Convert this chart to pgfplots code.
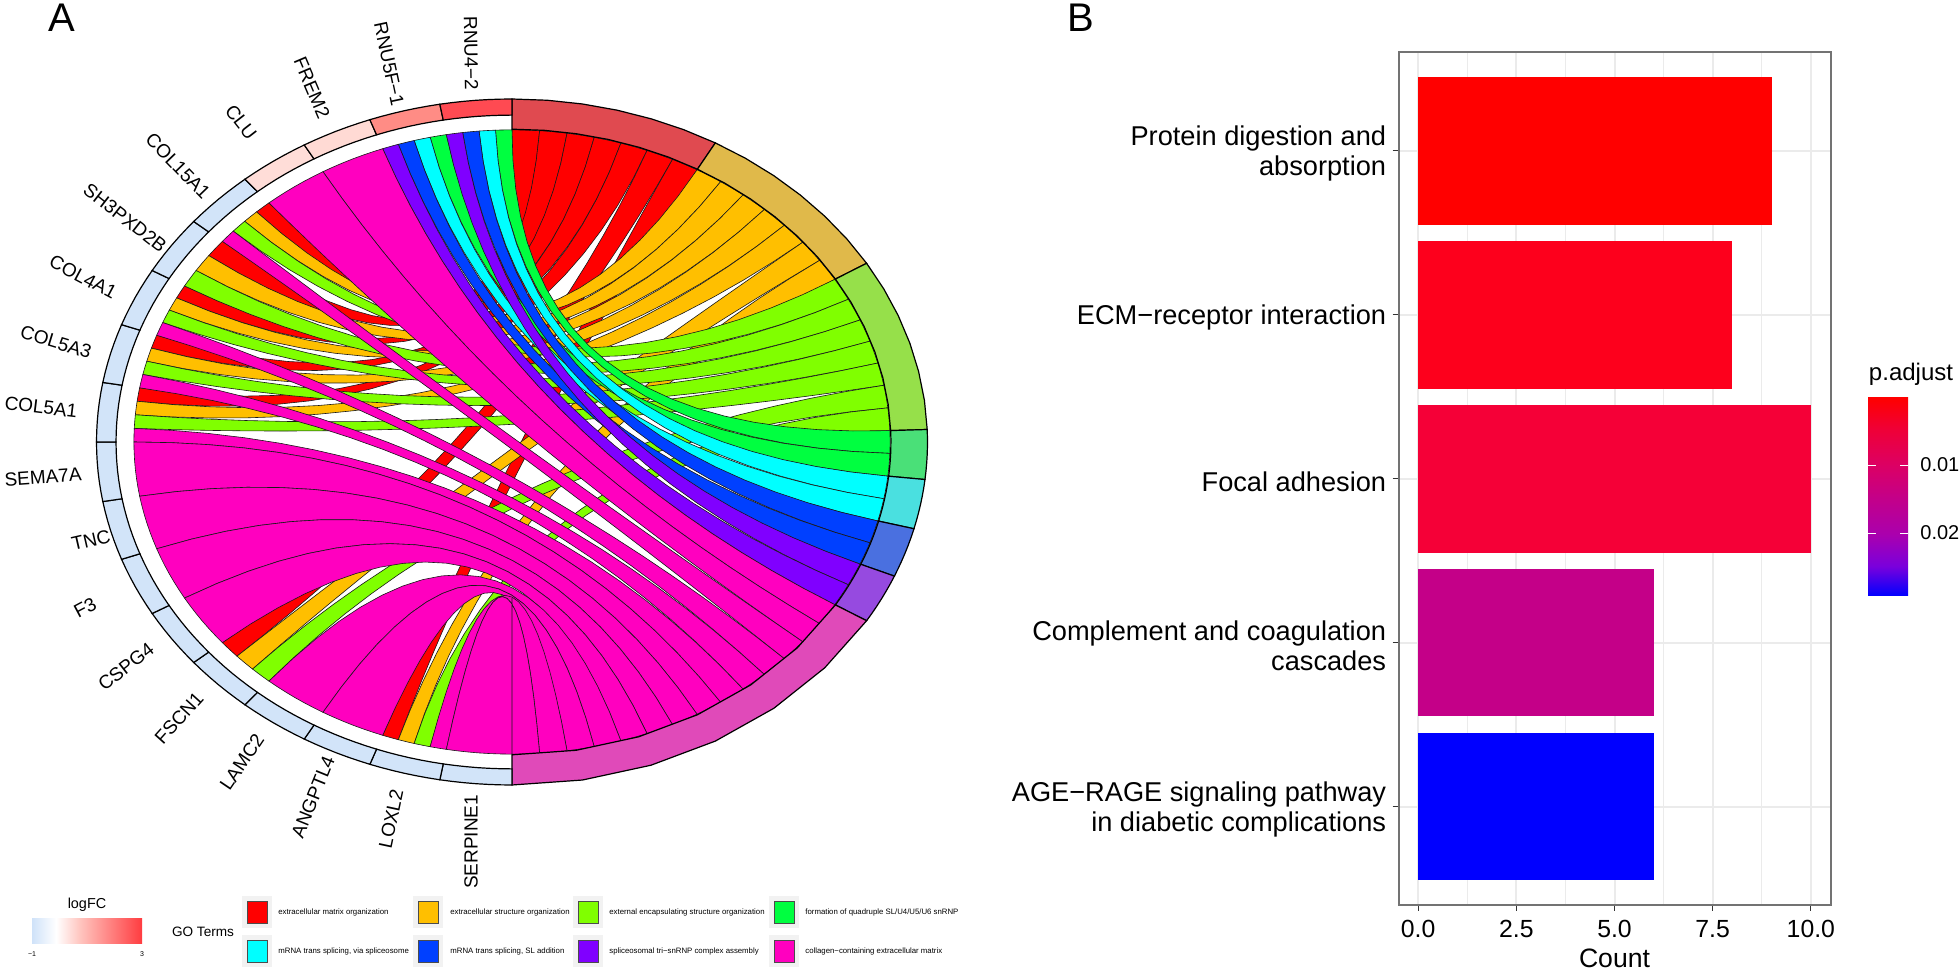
\documentclass[border=0pt]{standalone}
\usepackage{fontspec}
\setmainfont{Liberation Sans}
\usepackage{pgfplots}
\pgfplotsset{compat=1.18}
\definecolor{cR}{HTML}{FF0000}\definecolor{cO}{HTML}{FFBF00}\definecolor{cL}{HTML}{80FF00}\definecolor{cG}{HTML}{00FF40}
\definecolor{cC}{HTML}{00FFFF}\definecolor{cB}{HTML}{0040FF}\definecolor{cP}{HTML}{8000FF}\definecolor{cM}{HTML}{FF00BF}
\definecolor{rR}{HTML}{E04A50}\definecolor{rO}{HTML}{E0B94A}\definecolor{rL}{HTML}{96E04A}\definecolor{rG}{HTML}{4AE078}
\definecolor{rC}{HTML}{4AE0E0}\definecolor{rB}{HTML}{4A70E0}\definecolor{rP}{HTML}{964AE0}\definecolor{rM}{HTML}{E04AB9}
\definecolor{gN}{HTML}{D2E4F9}\definecolor{gA}{HTML}{FF4A52}\definecolor{gB}{HTML}{FF8C85}\definecolor{gC}{HTML}{FFDAD4}\definecolor{gD}{HTML}{FFDDD8}
\definecolor{pa1}{HTML}{0000FF}\definecolor{pa2}{HTML}{7A00DC}\definecolor{pa3}{HTML}{AA00AE}\definecolor{pa4}{HTML}{C40088}\definecolor{pa5}{HTML}{DC0064}\definecolor{pa6}{HTML}{F00035}\definecolor{pa7}{HTML}{FF0000}
\definecolor{fc1}{HTML}{CFE2F9}\definecolor{fc2}{HTML}{FFFFFF}\definecolor{fc3}{HTML}{FFC4BE}\definecolor{fc4}{HTML}{FF3C40}
\pgfdeclareverticalshading{padj}{100bp}{color(0bp)=(pa1);color(25bp)=(pa1);color(32.5bp)=(pa2);color(40.5bp)=(pa3);color(50bp)=(pa4);color(58bp)=(pa5);color(67.5bp)=(pa6);color(75bp)=(pa7);color(100bp)=(pa7)}
\pgfdeclarehorizontalshading{logfc}{100bp}{color(0bp)=(fc1);color(25bp)=(fc1);color(36bp)=(fc2);color(47bp)=(fc3);color(75bp)=(fc4);color(100bp)=(fc4)}
\def\cx{512}\def\cy{442}\def\rxx{415.5}\def\ryy{343}\def\RR{0.91}
\newcommand\polarpt[2]{\pgfmathsetmacro\myX{\cx+\rxx*#2*sin(#1)}\pgfmathsetmacro\myY{\cy-\ryy*#2*cos(#1)}\xdef\coords{\coords(\myX,\myY)}}
\newcommand\arcpts[3]{\foreach \kk in {0,...,6}{\pgfmathsetmacro\myA{#1+(#2-#1)*\kk/6}\polarpt{\myA}{#3}}}
\newcommand\bezpts[2]{\pgfmathsetmacro\sa{sin(#1)}\pgfmathsetmacro\sb{sin(#2)}\pgfmathsetmacro\ca{cos(#1)}\pgfmathsetmacro\cb{cos(#2)}%
 \foreach \kk in {1,...,19}{\pgfmathsetmacro\myT{\kk/20}\pgfmathsetmacro\myU{(1-\myT)*(1-\myT)}\pgfmathsetmacro\myV{\myT*\myT}%
 \pgfmathsetmacro\myX{\cx+\rxx*\RR*(\myU*\sa+\myV*\sb)}\pgfmathsetmacro\myY{\cy-\ryy*\RR*(\myU*\ca+\myV*\cb)}\xdef\coords{\coords(\myX,\myY)}}}
% colour, gene from, gene to, term from, term to
\newcommand\ribbon[5]{\gdef\coords{}\arcpts{#2}{#3}{\RR}\bezpts{#3}{#4}\arcpts{#4}{#5}{\RR}\bezpts{#5}{#2}%
 \edef\tmp{\noexpand\addplot[fill=#1,draw=black!90,line width=0.3pt,forget plot] coordinates {\coords} --cycle;}\tmp}
% colour, from, to, r inner
\newcommand\ringseg[4]{\gdef\coords{}\arcpts{#2}{#3}{1}\arcpts{#3}{#2}{#4}%
 \edef\tmp{\noexpand\addplot[fill=#1,draw=black,line width=0.6pt,forget plot] coordinates {\coords} --cycle;}\tmp}
\newcommand\glab[4]{\node[rotate=#4,font=\fontsize{9.5}{11}\selectfont] at (axis cs:#2,#3) {#1};}
\newcommand\legkey[5]{\fill[black!5] (axis cs:#2-5,#3-5) rectangle (axis cs:#2+25,#3+27);
 \fill[#1,draw=black!70,line width=0.3pt] (axis cs:#2,#3) rectangle (axis cs:#2+20,#3+22);
 \node[anchor=west,inner sep=0pt,font=\fontsize{3.9}{4.5}\selectfont] at (axis cs:#4,#3+11.5) {#5};}
\begin{document}
\begin{tikzpicture}[x=1pt,y=1pt]
\useasboundingbox (0,0) rectangle (980,486);
\begin{axis}[at={(0pt,0pt)},anchor=south west,scale only axis,width=980pt,height=486pt,
 xmin=0,xmax=1960,ymin=0,ymax=972,y dir=reverse,hide axis,clip=false]
% ribbons: red
\ribbon{cR}{317.5}{320}{0}{4.19}
\ribbon{cR}{306.67}{310}{4.19}{8.37}
\ribbon{cR}{297.5}{300}{8.37}{12.56}
\ribbon{cR}{287.5}{290}{12.56}{16.74}
\ribbon{cR}{277.5}{280}{16.74}{20.93}
\ribbon{cR}{226.67}{230}{20.93}{25.12}
\ribbon{cR}{197.5}{200}{25.12}{29.30}
% orange
\ribbon{cO}{315}{317.5}{29.30}{33.49}
\ribbon{cO}{303.33}{306.67}{33.49}{37.67}
\ribbon{cO}{295}{297.5}{37.67}{41.86}
\ribbon{cO}{285}{287.5}{41.86}{46.05}
\ribbon{cO}{275}{277.5}{46.05}{50.23}
\ribbon{cO}{223.33}{226.67}{50.23}{54.42}
\ribbon{cO}{195}{197.5}{54.42}{58.60}
% lime
\ribbon{cL}{312.5}{315}{58.60}{62.79}
\ribbon{cL}{300}{303.33}{62.79}{66.98}
\ribbon{cL}{292.5}{295}{66.98}{71.16}
\ribbon{cL}{282.5}{285}{71.16}{75.35}
\ribbon{cL}{272.5}{275}{75.35}{79.53}
\ribbon{cL}{220}{223.33}{79.53}{83.72}
\ribbon{cL}{192.5}{195}{83.72}{87.91}
% green, cyan, blue, purple
\ribbon{cG}{357.5}{360}{87.91}{92.09}
\ribbon{cG}{347.5}{350}{92.09}{96.28}
\ribbon{cC}{355}{357.5}{96.28}{100.47}
\ribbon{cC}{345}{347.5}{100.47}{104.65}
\ribbon{cB}{352.5}{355}{104.65}{108.84}
\ribbon{cB}{342.5}{345}{108.84}{113.02}
\ribbon{cP}{350}{352.5}{113.02}{117.21}
\ribbon{cP}{340}{342.5}{117.21}{121.40}
% magenta
\ribbon{cM}{330}{340}{121.40}{125.58}
\ribbon{cM}{320}{330}{125.58}{129.77}
\ribbon{cM}{310}{312.5}{129.77}{133.95}
\ribbon{cM}{290}{292.5}{133.95}{138.14}
\ribbon{cM}{280}{282.5}{138.14}{142.33}
\ribbon{cM}{270}{272.5}{142.33}{146.51}
\ribbon{cM}{260}{270}{146.51}{150.70}
\ribbon{cM}{250}{260}{150.70}{154.88}
\ribbon{cM}{240}{250}{154.88}{159.07}
\ribbon{cM}{230}{240}{159.07}{163.26}
\ribbon{cM}{210}{220}{163.26}{167.44}
\ribbon{cM}{200}{210}{167.44}{171.63}
\ribbon{cM}{190}{192.5}{171.63}{175.81}
\ribbon{cM}{180}{190}{175.81}{180}
% term ring
\ringseg{rR}{0}{29.30}{0.912}
\ringseg{rO}{29.30}{58.60}{0.912}
\ringseg{rL}{58.60}{87.91}{0.912}
\ringseg{rG}{87.91}{96.28}{0.912}
\ringseg{rC}{96.28}{104.65}{0.912}
\ringseg{rB}{104.65}{113.02}{0.912}
\ringseg{rP}{113.02}{121.40}{0.912}
\ringseg{rM}{121.40}{180}{0.912}
% gene ring
\ringseg{gN}{180}{190}{0.953}\ringseg{gN}{190}{200}{0.953}\ringseg{gN}{200}{210}{0.953}\ringseg{gN}{210}{220}{0.953}
\ringseg{gN}{220}{230}{0.953}\ringseg{gN}{230}{240}{0.953}\ringseg{gN}{240}{250}{0.953}\ringseg{gN}{250}{260}{0.953}
\ringseg{gN}{260}{270}{0.953}\ringseg{gN}{270}{280}{0.953}\ringseg{gN}{280}{290}{0.953}\ringseg{gN}{290}{300}{0.953}
\ringseg{gN}{300}{310}{0.953}\ringseg{gN}{310}{320}{0.953}\ringseg{gD}{320}{330}{0.953}\ringseg{gC}{330}{340}{0.953}
\ringseg{gB}{340}{350}{0.953}\ringseg{gA}{350}{360}{0.953}
% gene labels
\glab{RNU4−2}{471}{53}{-89}
\glab{RNU5F−1}{389}{64}{-78}
\glab{FREM2}{312}{88}{-67}
\glab{CLU}{241}{122}{-52}
\glab{COL15A1}{178}{166}{-46}
\glab{SH3PXD2B}{125}{218}{-38}
\glab{COL4A1}{83}{277}{-28}
\glab{COL5A3}{56}{342}{-17}
\glab{COL5A1}{41}{407}{-7}
\glab{SEMA7A}{43}{477}{4}
\glab{TNC}{91}{540}{13}
\glab{F3}{85}{608}{28}
\glab{CSPG4}{126}{667}{38}
\glab{FSCN1}{179}{718}{48}
\glab{LAMC2}{242}{762}{56}
\glab{ANGPTL4}{313}{797}{68}
\glab{LOXL2}{391}{819}{78}
\glab{SERPINE1}{471}{842}{90}
% panel letters
\node[font=\fontsize{20}{22}\selectfont] at (axis cs:62,18) {A};
\node[font=\fontsize{20}{22}\selectfont] at (axis cs:1081,18) {B};
% logFC legend
\node[font=\fontsize{7.2}{8}\selectfont] at (axis cs:87,905) {logFC};
\shade[shading=logfc] (axis cs:32,918) rectangle (axis cs:142,943);
\node[font=\fontsize{3.5}{4}\selectfont] at (axis cs:32,954) {−1};
\node[font=\fontsize{3.5}{4}\selectfont] at (axis cs:142,954) {3};
\node[font=\fontsize{6.8}{8}\selectfont] at (axis cs:203,932) {GO Terms};
\legkey{cR}{247}{901}{278}{extracellular matrix organization}
\legkey{cO}{418}{901}{450}{extracellular structure organization}
\legkey{cL}{578}{901}{609}{external encapsulating structure organization}
\legkey{cG}{774}{901}{805}{formation of quadruple SL/U4/U5/U6 snRNP}
\legkey{cC}{247}{940}{278}{mRNA trans splicing, via spliceosome}
\legkey{cB}{418}{940}{450}{mRNA trans splicing, SL addition}
\legkey{cP}{578}{940}{609}{spliceosomal tri−snRNP complex assembly}
\legkey{cM}{774}{940}{805}{collagen−containing extracellular matrix}
% p.adjust legend
\node[font=\fontsize{12}{14}\selectfont] at (axis cs:1911,374) {p.adjust};
\shade[shading=padj] (axis cs:1868,398) rectangle (axis cs:1908,596);
\draw[white,line width=0.4pt] (axis cs:1868,465) -- (axis cs:1876,465) (axis cs:1900,465) -- (axis cs:1908,465);
\draw[white,line width=0.4pt] (axis cs:1868,533) -- (axis cs:1876,533) (axis cs:1900,533) -- (axis cs:1908,533);
\node[anchor=west,inner sep=0pt,font=\fontsize{10}{12}\selectfont] at (axis cs:1920,465) {0.01};
\node[anchor=west,inner sep=0pt,font=\fontsize{10}{12}\selectfont] at (axis cs:1920,533) {0.02};
\end{axis}
% bar chart
\begin{axis}[at={(699.25pt,33.5pt)},anchor=south west,scale only axis,width=216pt,height=426.25pt,
 xbar,bar width=0.9,bar shift=0pt,
 xmin=-0.5,xmax=10.5,ymin=0.4,ymax=5.6,
 xtick={0,2.5,5,7.5,10},minor xtick={1.25,3.75,6.25,8.75},ytick={1,2,3,4,5},
 yticklabels={{AGE−RAGE signaling pathway\\in diabetic complications},{Complement and coagulation\\cascades},{Focal adhesion},{ECM−receptor interaction},{Protein digestion and\\absorption}},
 yticklabel style={align=right,font=\fontsize{13.6}{15}\selectfont,inner sep=0pt,xshift=-3pt,yshift=-1.5pt},
 xticklabel style={font=\fontsize{12.4}{14}\selectfont,yshift=-1pt,/pgf/number format/fixed,/pgf/number format/fixed zerofill,/pgf/number format/precision=1,/pgf/number format/assume math mode=true},
 xlabel={Count},xlabel style={font=\fontsize{13.3}{15}\selectfont,yshift=1pt},
 tick align=outside,tick pos=left,major tick length=3pt,minor tick length=0pt,
 tick style={black!80,line width=0.6pt},
 axis line style={black!55,line width=1pt},
 xmajorgrids,xminorgrids,ymajorgrids,
 major grid style={black!8,line width=1pt},minor grid style={black!8,line width=0.5pt}]
\addplot[fill=pa1,draw=none] coordinates {(6,1)};
\addplot[fill=pa4,draw=none] coordinates {(6,2)};
\addplot[fill={rgb,255:red,245;green,0;blue,55},draw=none] coordinates {(10,3)};
\addplot[fill={rgb,255:red,253;green,0;blue,28},draw=none] coordinates {(8,4)};
\addplot[fill=pa7,draw=none] coordinates {(9,5)};
\end{axis}
\end{tikzpicture}
\end{document}
